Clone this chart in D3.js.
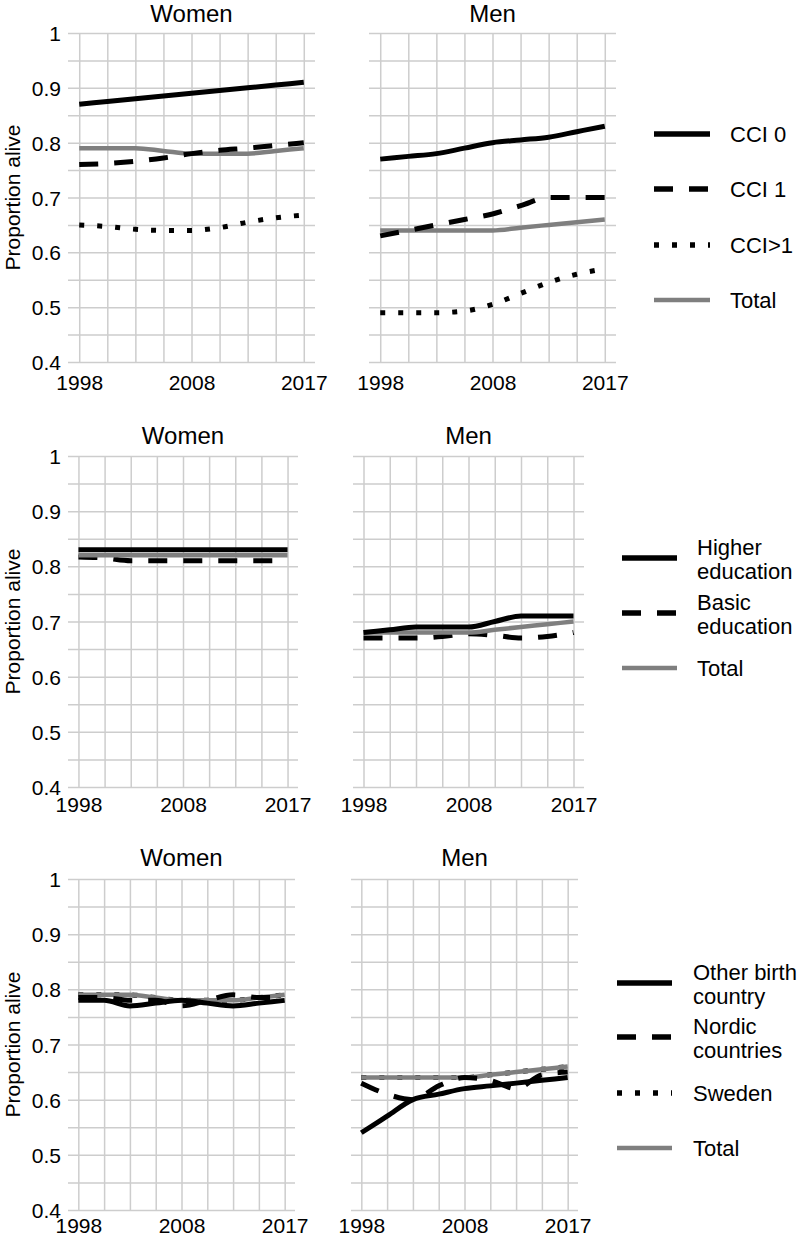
<!DOCTYPE html>
<html>
<head>
<meta charset="utf-8">
<script src="https://cdn.jsdelivr.net/npm/d3@7"></script>
<style>
  html, body { margin: 0; padding: 0; background: #fff; }
  svg { display: block; }
  text { font-family: "Liberation Sans", Arial, Helvetica, sans-serif; fill: #000; }
</style>
</head>
<body>
<svg id="chart" width="800" height="1237"></svg>
<script>
// ---------- DATA ----------
const periods = ["1998","2000","2003","2005","2008","2010","2012","2015","2017"];
const xTickLabels = ["1998","2008","2017"];
const yTickValues = [0.4, 0.5, 0.6, 0.7, 0.8, 0.9, 1];
const yGridValues = [0.4,0.45,0.5,0.55,0.6,0.65,0.7,0.75,0.8,0.85,0.9,0.95,1];
const panelTitles = ["Women", "Men"];
const yAxisTitle = "Proportion alive";

// Row 1: comorbidity (CCI)
const womenCCI0   = [0.87, 0.875, 0.88, 0.885, 0.89, 0.895, 0.90, 0.905, 0.91];
const womenCCI1   = [0.76, 0.762, 0.766, 0.772, 0.78, 0.786, 0.79, 0.795, 0.80];
const womenCCIgt1 = [0.65, 0.647, 0.642, 0.64, 0.64, 0.645, 0.655, 0.663, 0.668];
const womenTotal  = [0.79, 0.79, 0.79, 0.785, 0.78, 0.78, 0.78, 0.785, 0.79];
const menCCI0     = [0.77, 0.775, 0.78, 0.79, 0.80, 0.805, 0.81, 0.82, 0.83];
const menCCI1     = [0.63, 0.64, 0.65, 0.66, 0.67, 0.685, 0.70, 0.70, 0.70];
const menCCIgt1   = [0.49, 0.49, 0.49, 0.493, 0.505, 0.525, 0.545, 0.56, 0.57];
const menTotal    = [0.64, 0.64, 0.64, 0.64, 0.64, 0.645, 0.65, 0.655, 0.66];

// Row 2: education
const womenHigherEdu = [0.83, 0.83, 0.83, 0.83, 0.83, 0.83, 0.83, 0.83, 0.83];
const womenBasicEdu  = [0.817, 0.815, 0.81, 0.81, 0.81, 0.81, 0.81, 0.81, 0.81];
const womenEduTotal  = [0.82, 0.82, 0.82, 0.82, 0.82, 0.82, 0.82, 0.82, 0.82];
const menHigherEdu   = [0.68, 0.685, 0.69, 0.69, 0.69, 0.70, 0.71, 0.71, 0.71];
const menBasicEdu    = [0.67, 0.67, 0.67, 0.673, 0.678, 0.675, 0.67, 0.673, 0.68];
const menEduTotal    = [0.68, 0.68, 0.68, 0.68, 0.68, 0.685, 0.69, 0.695, 0.70];

// Row 3: birth country
const womenOtherCountry = [0.78, 0.78, 0.77, 0.775, 0.78, 0.775, 0.77, 0.775, 0.78];
const womenNordic       = [0.785, 0.785, 0.78, 0.78, 0.77, 0.78, 0.79, 0.785, 0.785];
const womenSweden       = [0.79, 0.79, 0.79, 0.785, 0.78, 0.78, 0.78, 0.785, 0.79];
const womenBirthTotal   = [0.79, 0.79, 0.79, 0.785, 0.78, 0.78, 0.78, 0.785, 0.79];
const menOtherCountry   = [0.54, 0.57, 0.60, 0.61, 0.62, 0.625, 0.63, 0.635, 0.64];
const menNordic         = [0.63, 0.61, 0.60, 0.625, 0.64, 0.635, 0.62, 0.645, 0.65];
const menSweden         = [0.64, 0.64, 0.64, 0.64, 0.64, 0.645, 0.65, 0.655, 0.66];
const menBirthTotal     = [0.64, 0.64, 0.64, 0.64, 0.64, 0.645, 0.65, 0.655, 0.66];

const legend1Labels = [["CCI 0"], ["CCI 1"], ["CCI>1"], ["Total"]];
const legend2Labels = [["Higher", "education"], ["Basic", "education"], ["Total"]];
const legend3Labels = [["Other birth", "country"], ["Nordic", "countries"], ["Sweden"], ["Total"]];

// ---------- STYLES ----------
const GRAY = "#7f7f7f";
const GRID = "#cdcdcd";
const FONT = '"Liberation Sans", Arial, Helvetica, sans-serif';
const styles = {
  solid:  { stroke: "#000", width: 5, dash: null },
  dashed: { stroke: "#000", width: 5, dash: "19,16" },
  dotted: { stroke: "#000", width: 5, dash: "5,13" },
  total:  { stroke: GRAY,  width: 4.5, dash: null }
};

// ---------- LAYOUT ----------
const rows = [
  { top: 33, bottom: 362, titleY: 22, xLabY: 390,
    panels: [
      { x0: 68, x1: 315, series: [["dotted", womenCCIgt1], ["total", womenTotal], ["dashed", womenCCI1], ["solid", womenCCI0]] },
      { x0: 369, x1: 616, series: [["dotted", menCCIgt1], ["total", menTotal], ["dashed", menCCI1], ["solid", menCCI0]] }
    ],
    legend: { x0: 654, x1: 710, tx: 730, ys: [134, 189, 245, 300], kinds: ["solid","dashed","dotted","total"], labels: legend1Labels }
  },
  { top: 456, bottom: 787, titleY: 444, xLabY: 812,
    panels: [
      { x0: 68, x1: 298, series: [["dashed", womenBasicEdu], ["total", womenEduTotal], ["solid", womenHigherEdu]] },
      { x0: 353, x1: 584, series: [["dashed", menBasicEdu], ["total", menEduTotal], ["solid", menHigherEdu]] }
    ],
    legend: { x0: 622, x1: 677, tx: 697, ys: [558, 613, 668], kinds: ["solid","dashed","total"], labels: legend2Labels }
  },
  { top: 879, bottom: 1210, titleY: 866, xLabY: 1233,
    panels: [
      { x0: 68, x1: 295, series: [["dotted", womenSweden], ["total", womenBirthTotal], ["dashed", womenNordic], ["solid", womenOtherCountry]] },
      { x0: 351, x1: 578, series: [["dotted", menSweden], ["total", menBirthTotal], ["dashed", menNordic], ["solid", menOtherCountry]] }
    ],
    legend: { x0: 617, x1: 672, tx: 693, ys: [983, 1037, 1093, 1148], kinds: ["solid","dashed","dotted","total"], labels: legend3Labels }
  }
];

const svg = d3.select("#chart");

rows.forEach(row => {
  const y = d3.scaleLinear().domain([0.4, 1]).range([row.bottom, row.top]);

  row.panels.forEach((p, pi) => {
    const x = d3.scalePoint().domain(periods).range([p.x0, p.x1]).padding(0.4);
    const g = svg.append("g");

    // horizontal grid
    g.append("g").call(
      d3.axisLeft(y).tickValues(yGridValues).tickSize(-(p.x1 - p.x0)).tickFormat("")
    ).attr("transform", `translate(${p.x0},0)`)
     .call(s => s.select(".domain").remove())
     .call(s => s.selectAll(".tick line").attr("stroke", GRID).attr("stroke-width", 1.5));

    // vertical grid
    g.append("g").call(
      d3.axisBottom(x).tickSize(-(row.bottom - row.top)).tickFormat("")
    ).attr("transform", `translate(0,${row.bottom})`)
     .call(s => s.select(".domain").remove())
     .call(s => s.selectAll(".tick line").attr("stroke", GRID).attr("stroke-width", 1.5));

    // x tick labels
    g.append("g").call(
      d3.axisBottom(x).tickValues(xTickLabels).tickSize(0).tickPadding(0)
    ).attr("transform", `translate(0,${row.xLabY})`)
     .attr("font-size", 21).attr("font-family", FONT)
     .call(s => s.select(".domain").remove())
     .call(s => s.selectAll(".tick text")
        .attr("y", 0).attr("dy", 0).attr("fill", "#000"));

    // y tick labels (left panel only)
    if (pi === 0) {
      g.append("g").call(
        d3.axisLeft(y).tickValues(yTickValues).tickSize(0).tickPadding(0)
          .tickFormat(d => d === 1 ? "1" : d.toFixed(1))
      ).attr("transform", `translate(61,0)`)
       .attr("font-size", 21).attr("font-family", FONT)
       .call(s => s.select(".domain").remove())
       .call(s => s.selectAll(".tick text")
          .attr("x", 0).attr("dy", "0.36em").attr("fill", "#000"));

      g.append("text")
        .attr("transform", `translate(20,${(row.top + row.bottom) / 2}) rotate(-90)`)
        .attr("text-anchor", "middle")
        .attr("font-size", 21)
        .text(yAxisTitle);
    }

    // title
    g.append("text")
      .attr("x", (p.x0 + p.x1) / 2)
      .attr("y", row.titleY)
      .attr("text-anchor", "middle")
      .attr("font-size", 24)
      .text(panelTitles[pi]);

    // lines
    const line = d3.line()
      .x((d, i) => x(periods[i]))
      .y(d => y(d))
      .curve(d3.curveMonotoneX);

    p.series.forEach(([kind, vals]) => {
      const st = styles[kind];
      g.append("path")
        .datum(vals)
        .attr("d", line)
        .attr("fill", "none")
        .attr("stroke", st.stroke)
        .attr("stroke-width", st.width)
        .attr("stroke-linecap", "butt")
        .attr("stroke-linejoin", "round")
        .attr("stroke-dasharray", st.dash);
    });
  });

  // legend
  const L = row.legend;
  const lg = svg.append("g");
  L.kinds.forEach((kind, i) => {
    const st = styles[kind];
    const ly = L.ys[i];
    lg.append("line")
      .attr("x1", L.x0).attr("x2", L.x1)
      .attr("y1", ly).attr("y2", ly)
      .attr("stroke", st.stroke)
      .attr("stroke-width", kind === "total" ? 4.5 : 5.5)
      .attr("stroke-dasharray", st.dash);
    const lab = L.labels[i];
    if (lab.length === 1) {
      lg.append("text").attr("x", L.tx).attr("y", ly + 8)
        .attr("font-size", 22).text(lab[0]);
    } else {
      lg.append("text").attr("x", L.tx).attr("y", ly - 3)
        .attr("font-size", 22).text(lab[0]);
      lg.append("text").attr("x", L.tx).attr("y", ly + 21)
        .attr("font-size", 22).text(lab[1]);
    }
  });
});
</script>
</body>
</html>
